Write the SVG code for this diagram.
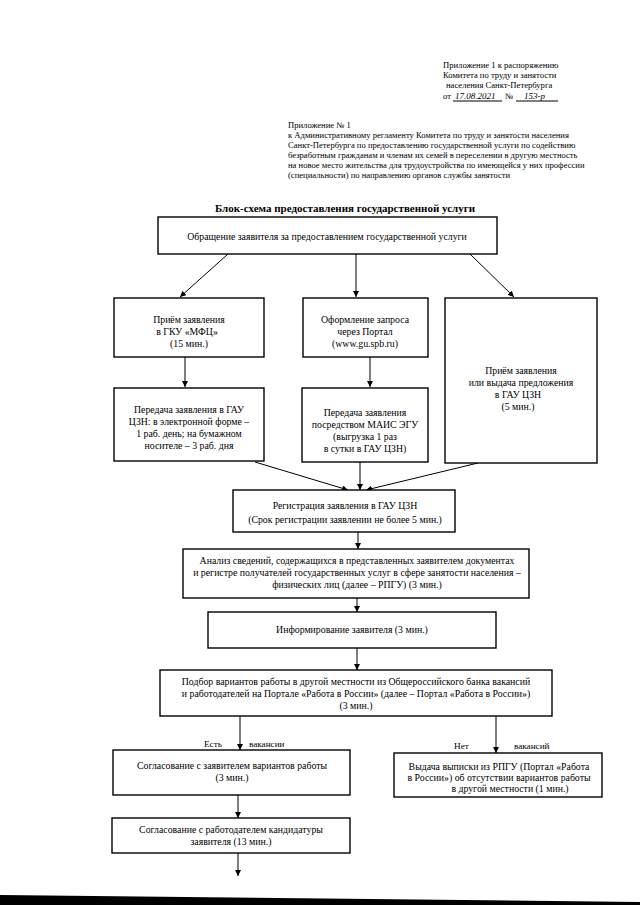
<svg xmlns="http://www.w3.org/2000/svg" width="640" height="905" viewBox="0 0 640 905">
<defs>
<style>
text{font-family:"Liberation Serif","Times New Roman",serif;font-size:9.8px;fill:#000}
.h{font-size:8.6px}
.l{font-size:9.2px}
.c{text-anchor:middle}
.t{font-weight:bold;font-size:11px}
.box{fill:#fff;stroke:#000;stroke-width:1.4}
.ln{stroke:#000;stroke-width:1;fill:none}
.hw{font-style:italic;font-size:9px}
</style>
<marker id="ah" viewBox="0 0 10 10" refX="10" refY="5" markerWidth="6" markerHeight="6" orient="auto" markerUnits="userSpaceOnUse">
<path d="M0,0 L10,5 L0,10 z" fill="#000"/>
</marker>
</defs>
<rect width="640" height="905" fill="#fff"/>

<g id="header">
<text x="443" y="68" class="h">Приложение 1 к распоряжению</text>
<text x="443" y="78" class="h">Комитета по труду и занятости</text>
<text x="446" y="88" class="h">населения Санкт-Петербурга</text>
<text x="443" y="99" class="h">от</text>
<text x="455" y="99" class="hw">17.08.2021</text>
<line x1="453" y1="101" x2="502" y2="101" class="ln" stroke-width="0.7"/>
<text x="505" y="99" class="h">№</text>
<text x="524" y="99" class="hw">153-р</text>
<line x1="516" y1="101" x2="558" y2="101" class="ln" stroke-width="0.7"/>

<text x="288" y="128" class="h">Приложение № 1</text>
<text x="288" y="138" class="h">к Административному регламенту Комитета по труду и занятости населения</text>
<text x="288" y="148" class="h">Санкт-Петербурга по предоставлению государственной услуги по содействию</text>
<text x="288" y="158" class="h">безработным гражданам и членам их семей в переселении в другую местность</text>
<text x="288" y="168" class="h">на новое место жительства для трудоустройства по имеющейся у них профессии</text>
<text x="288" y="178" class="h">(специальности) по направлению органов службы занятости</text>

<text x="345" y="212" class="c t">Блок-схема предоставления государственной услуги</text>
</g>

<g id="connectors">
<line x1="228" y1="254" x2="180" y2="297" class="ln" marker-end="url(#ah)"/>
<line x1="356" y1="254" x2="356" y2="297" class="ln" marker-end="url(#ah)"/>
<line x1="470" y1="254" x2="514" y2="297" class="ln" marker-end="url(#ah)"/>
<line x1="185" y1="357" x2="185" y2="387" class="ln" marker-end="url(#ah)"/>
<line x1="370" y1="357" x2="370" y2="387" class="ln" marker-end="url(#ah)"/>
<line x1="255" y1="462" x2="348" y2="490" class="ln" marker-end="url(#ah)"/>
<line x1="360" y1="462" x2="360" y2="490" class="ln" marker-end="url(#ah)"/>
<line x1="478" y1="463" x2="366" y2="490" class="ln" marker-end="url(#ah)"/>
<line x1="358" y1="532" x2="358" y2="549" class="ln" marker-end="url(#ah)"/>
<line x1="357" y1="598" x2="357" y2="612" class="ln" marker-end="url(#ah)"/>
<line x1="357" y1="648" x2="357" y2="670" class="ln" marker-end="url(#ah)"/>
<line x1="240" y1="716" x2="240" y2="750" class="ln" marker-end="url(#ah)"/>
<line x1="496" y1="716" x2="496" y2="753" class="ln" marker-end="url(#ah)"/>
<line x1="238" y1="795" x2="238" y2="818" class="ln" marker-end="url(#ah)"/>
<line x1="238" y1="853" x2="238" y2="876" class="ln" marker-end="url(#ah)"/>
<text x="204" y="747" class="l">Есть</text>
<text x="249" y="747" class="l">вакансии</text>
<text x="454" y="749" class="l">Нет</text>
<text x="514" y="749" class="l">вакансий</text>
</g>

<g id="nA">
<rect x="158" y="217" width="339" height="37" class="box"/>
<text x="327" y="240" class="c">Обращение заявителя за предоставлением государственной услуги</text>
</g>
<g id="nB1">
<rect x="114" y="298" width="150" height="59" class="box"/>
<text x="189" y="323" class="c">Приём заявления</text>
<text x="187" y="335" class="c">в  ГКУ «МФЦ»</text>
<text x="189" y="347" class="c">(15 мин.)</text>
</g>
<g id="nB2">
<rect x="303" y="298" width="125" height="59" class="box"/>
<text x="365" y="323" class="c">Оформление запроса</text>
<text x="365" y="335" class="c">через Портал</text>
<text x="365" y="347" class="c">(www.gu.spb.ru)</text>
</g>
<g id="nB3">
<rect x="445" y="298" width="152" height="165" class="box"/>
<text x="521" y="374" class="c">Приём заявления</text>
<text x="521" y="386" class="c">или выдача предложения</text>
<text x="518" y="398" class="c">в ГАУ ЦЗН</text>
<text x="518" y="410" class="c">(5 мин.)</text>
</g>
<g id="nC1">
<rect x="114" y="388" width="150" height="73" class="box"/>
<text x="189" y="413" class="c">Передача заявления в ГАУ</text>
<text x="189" y="425" class="c">ЦЗН: в электронной форме –</text>
<text x="189" y="437" class="c">1 раб. день; на бумажном</text>
<text x="189" y="449" class="c">носителе – 3 раб. дня</text>
</g>
<g id="nC2">
<rect x="302" y="388" width="126" height="74" class="box"/>
<text x="365" y="416" class="c">Передача заявления</text>
<text x="365" y="428" class="c">посредством МАИС ЭГУ</text>
<text x="365" y="440" class="c">(выгрузка 1 раз</text>
<text x="365" y="452" class="c">в сутки в ГАУ ЦЗН)</text>
</g>
<g id="nD">
<rect x="233" y="490" width="222" height="42" class="box"/>
<text x="345" y="509" class="c">Регистрация заявления в ГАУ ЦЗН</text>
<text x="345" y="523" class="c">(Срок регистрации заявлении не более 5 мин.)</text>
</g>
<g id="nE">
<rect x="183" y="549" width="346" height="49" class="box"/>
<text x="357" y="564" class="c">Анализ сведений, содержащихся в представленных заявителем документах</text>
<text x="357" y="576" class="c">и регистре получателей государственных услуг в сфере занятости населения –</text>
<text x="357" y="588" class="c">физических лиц (далее – РПГУ) (3 мин.)</text>
</g>
<g id="nF">
<rect x="208" y="612" width="288" height="36" class="box"/>
<text x="352" y="633" class="c">Информирование заявителя (3 мин.)</text>
</g>
<g id="nG">
<rect x="160" y="670" width="392" height="46" class="box"/>
<text x="356" y="685" class="c">Подбор вариантов работы в другой местности из Общероссийского банка вакансий</text>
<text x="356" y="697" class="c">и работодателей на Портале «Работа в России» (далее – Портал «Работа в России»)</text>
<text x="356" y="709" class="c">(3 мин.)</text>
</g>
<g id="nH1">
<rect x="113" y="750" width="237" height="45" class="box"/>
<text x="232" y="769" class="c">Согласование с заявителем вариантов работы</text>
<text x="232" y="781" class="c">(3 мин.)</text>
</g>
<g id="nH2">
<rect x="394" y="753" width="208" height="44" class="box"/>
<text x="499" y="770" class="c">Выдача выписки из РПГУ (Портал «Работа</text>
<text x="499" y="781" class="c">в России») об отсутствии вариантов работы</text>
<text x="510" y="792" class="c">в другой местности (1 мин.)</text>
</g>
<g id="nI">
<rect x="112" y="818" width="238" height="35" class="box"/>
<text x="231" y="833" class="c">Согласование с работодателем кандидатуры</text>
<text x="231" y="845" class="c">заявителя  (13 мин.)</text>
</g>

<polygon points="0,895 640,902 640,905 0,905" fill="#000"/>
</svg>
